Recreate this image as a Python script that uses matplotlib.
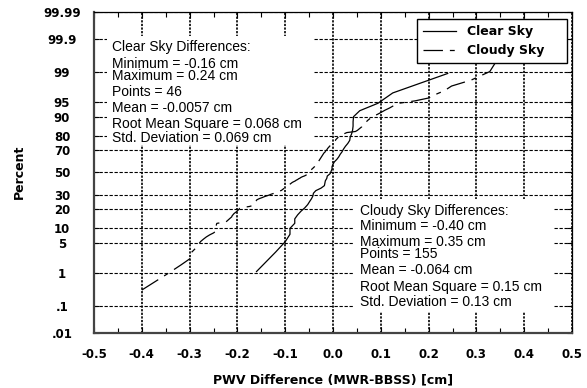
import numpy as np
import matplotlib
matplotlib.use("Agg")
import matplotlib.pyplot as plt
from matplotlib.patches import Rectangle
from matplotlib.ticker import MultipleLocator, NullLocator
from statistics import NormalDist

plt.rcParams['font.family'] = ['Liberation Sans', 'DejaVu Sans']
plt.rcParams['lines.scale_dashes'] = False
BOLD = ['DejaVu Sans']

# ---------------- data (sorted PWV differences, cm) ----------------
clear_sky = [-0.16, -0.12, -0.10, -0.09, -0.09, -0.08, -0.08, -0.074, -0.067, -0.059,
             -0.053, -0.049, -0.045, -0.042, -0.041, -0.036, -0.025, -0.018, -0.017, -0.016,
             -0.013, -0.012, -0.006, -0.004, -0.002, -0.002, 0.0, 0.003, 0.008, 0.012,
             0.015, 0.019, 0.022, 0.026, 0.031, 0.035, 0.036, 0.039, 0.041, 0.042,
             0.042, 0.043, 0.056, 0.094, 0.125, 0.24]

cloudy_sky = [-0.40, -0.345, -0.318, -0.30, -0.30, -0.292, -0.285, -0.281, -0.277, -0.271,
              -0.265, -0.258, -0.250, -0.245, -0.245, -0.244, -0.244, -0.244, -0.243, -0.224,
              -0.221, -0.218, -0.215, -0.212, -0.211, -0.209, -0.207, -0.204, -0.201, -0.199,
              -0.197, -0.195, -0.186, -0.174, -0.168, -0.166, -0.165, -0.164, -0.163, -0.161,
              -0.160, -0.157, -0.153, -0.148, -0.144, -0.139, -0.134, -0.130, -0.125, -0.121,
              -0.117, -0.113, -0.108, -0.106, -0.104, -0.102, -0.100, -0.098, -0.095, -0.093,
              -0.091, -0.089, -0.087, -0.085, -0.082, -0.079, -0.077, -0.074, -0.072, -0.069,
              -0.067, -0.064, -0.060, -0.057, -0.055, -0.053, -0.052, -0.051, -0.049, -0.048,
              -0.046, -0.045, -0.044, -0.042, -0.041, -0.039, -0.038, -0.037, -0.036, -0.035,
              -0.035, -0.034, -0.032, -0.030, -0.029, -0.028, -0.027, -0.026, -0.025, -0.024,
              -0.023, -0.022, -0.021, -0.020, -0.019, -0.017, -0.016, -0.015, -0.013, -0.012,
              -0.011, -0.009, -0.008, -0.006, -0.004, -0.002, 0.000, 0.001, 0.003, 0.005,
              0.006, 0.008, 0.010, 0.013, 0.015, 0.019, 0.024, 0.029, 0.047, 0.051,
              0.054, 0.057, 0.060, 0.061, 0.064, 0.067, 0.070, 0.073, 0.077, 0.081,
              0.088, 0.095, 0.102, 0.109, 0.118, 0.126, 0.135, 0.172, 0.201, 0.214,
              0.233, 0.248, 0.289, 0.328, 0.35]

series_names = ["Clear Sky", "Cloudy Sky"]

y_ticks = [0.01, 0.1, 1, 5, 10, 20, 30, 50, 70, 80, 90, 95, 99, 99.9, 99.99]
y_tick_labels = [".01", ".1", "1", "5", "10", "20", "30", "50", "70", "80",
                 "90", "95", "99", "99.9", "99.99"]
x_ticks = [-0.5, -0.4, -0.3, -0.2, -0.1, 0.0, 0.1, 0.2, 0.3, 0.4, 0.5]
x_tick_labels = ["-0.5", "-0.4", "-0.3", "-0.2", "-0.1", "0.0", "0.1", "0.2", "0.3", "0.4", "0.5"]

clear_stats = ["Clear Sky Differences:", "Minimum = -0.16 cm", "Maximum = 0.24 cm",
               "Points = 46", "Mean = -0.0057 cm", "Root Mean Square = 0.068 cm",
               "Std. Deviation = 0.069 cm"]
cloudy_stats = ["Cloudy Sky Differences:", "Minimum = -0.40 cm", "Maximum = 0.35 cm",
                "Points = 155", "Mean = -0.064 cm", "Root Mean Square = 0.15 cm",
                "Std. Deviation = 0.13 cm"]

# ---------------- probability scale ----------------
_nd = NormalDist()
_ppf = np.vectorize(_nd.inv_cdf, otypes=[float])
_cdf = np.vectorize(_nd.cdf, otypes=[float])


def fwd(p):
    p = np.clip(np.asarray(p, dtype=float) / 100.0, 1e-12, 1 - 1e-12)
    return _ppf(p)


def inv(z):
    return _cdf(np.asarray(z, dtype=float)) * 100.0


def plotting_positions(n):
    return (np.arange(1, n + 1) - 0.5) / n * 100.0


W, H = 587, 388
fig = plt.figure(figsize=(W / 100, H / 100), dpi=100)
ax = fig.add_axes([94 / W, 55 / H, 478 / W, 321 / H])
ax.set_yscale('function', functions=(fwd, inv))
ax.set_xlim(-0.5, 0.5)
ax.set_ylim(0.01, 99.99)
ax.set_axisbelow(True)

c_sorted = np.sort(clear_sky)
d_sorted = np.sort(cloudy_sky)
ax.plot(c_sorted, plotting_positions(len(c_sorted)), color='black', lw=0.9,
        label=series_names[0], zorder=3)
ax.plot(d_sorted, plotting_positions(len(d_sorted)), color='black', lw=0.9,
        linestyle=(0, (14, 5, 3.5, 5)), label=series_names[1], zorder=3)

# ticks
ax.set_xticks(x_ticks, labels=x_tick_labels)
ax.xaxis.set_minor_locator(MultipleLocator(0.05))
ax.set_yticks(y_ticks, labels=y_tick_labels)
ax.yaxis.set_minor_locator(NullLocator())
for lab in ax.get_xticklabels():
    lab.set_fontsize(8.5)
    lab.set_fontweight('bold')
    lab.set_family(BOLD)
for lab in ax.get_yticklabels():
    lab.set_fontsize(8.5)
    lab.set_fontweight('bold')
    lab.set_family(BOLD)
    lab.set_ha('center')
ax.tick_params(axis='x', which='major', direction='in', length=4, width=0.8,
               top=True, pad=10.5)
ax.tick_params(axis='x', which='minor', direction='in', length=3.5, width=0.8, top=True)
ax.tick_params(axis='y', which='major', direction='in', length=3.5, width=0.8,
               right=True, pad=23)

# grid
ax.grid(True, axis='x', which='major', color='black', lw=1.2, linestyle=(0, (1.6, 1.0)))
ax.grid(True, axis='y', which='major', color='black', lw=0.8, linestyle=(0, (2.4, 1.2)))

for side in ['left', 'bottom']:
    ax.spines[side].set_linewidth(1.6)
    ax.spines[side].set_color('#444444')
for side in ['top', 'right']:
    ax.spines[side].set_linewidth(0.9)
    ax.spines[side].set_color('black')

# axis labels
ax.set_xlabel("PWV Difference (MWR-BBSS) [cm]", fontsize=9, fontweight='bold', family=BOLD)
ax.xaxis.set_label_coords(0.5, (333 - 373) / 321)
ax.set_ylabel("Percent", fontsize=9, fontweight='bold', family=BOLD)
ax.yaxis.set_label_coords((26 - 94) / 478, (333 - 172) / 321)


def px_x(x):
    return (x - 94) / 478


def px_y(y):
    return (333 - y) / 321


# white boxes behind stats texts
ax.add_patch(Rectangle((px_x(107), px_y(145)), px_x(313) - px_x(107), px_y(36) - px_y(145),
                       transform=ax.transAxes, facecolor='white', edgecolor='none', zorder=1.5))
ax.add_patch(Rectangle((px_x(353), px_y(312)), px_x(553) - px_x(353), px_y(199) - px_y(312),
                       transform=ax.transAxes, facecolor='white', edgecolor='none', zorder=1.5))

clear_base = [51, 67.5, 80, 95.5, 112.5, 128, 142]
cloudy_base = [214.5, 230, 246, 258.5, 274.5, 291, 306.5]
for txt, yb in zip(clear_stats, clear_base):
    ax.text(px_x(112), px_y(yb), txt, transform=ax.transAxes, fontsize=10,
            va='baseline', ha='left', zorder=4)
for txt, yb in zip(cloudy_stats, cloudy_base):
    ax.text(px_x(360), px_y(yb), txt, transform=ax.transAxes, fontsize=10,
            va='baseline', ha='left', zorder=4)

leg = ax.legend(loc='upper left',
                bbox_to_anchor=(px_x(417), px_y(63), px_x(567) - px_x(417), px_y(19) - px_y(63)),
                mode='expand', borderaxespad=0,
                frameon=True, fancybox=False, edgecolor='black', framealpha=1,
                handlelength=2.6, handletextpad=0.9, borderpad=0.5, labelspacing=0.45,
                prop=dict(size=9, weight='bold', family=BOLD))
leg.get_frame().set_linewidth(1.0)
leg.set_zorder(5)

fig.savefig("out.png", dpi=100)
